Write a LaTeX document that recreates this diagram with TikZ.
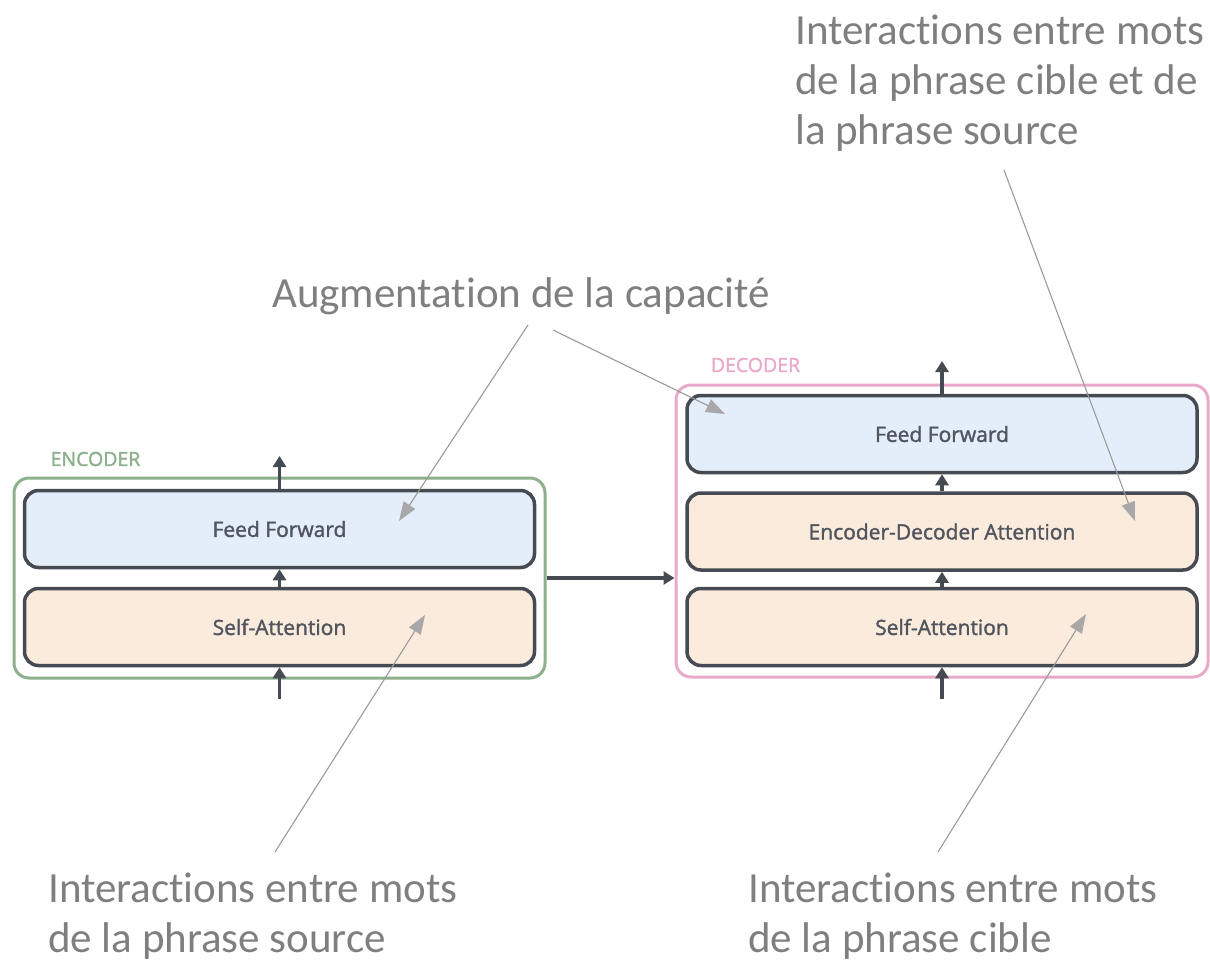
\documentclass[tikz,border=0pt]{standalone}
\usepackage{fontspec}
\setmainfont{Carlito}[Ligatures=NoCommon]
\newfontfamily\layerfont{Open Sans}[FakeBold=1.6]
\usetikzlibrary{arrows.meta}

\definecolor{layerline}{HTML}{464A52}
\definecolor{layertext}{HTML}{50555E}
\definecolor{ffblue}{HTML}{E4EEFA}
\definecolor{attpeach}{HTML}{FBEBDD}
\definecolor{encgreen}{HTML}{8CAF8C}
\definecolor{decpink}{HTML}{E9A9C9}
\definecolor{notegray}{HTML}{7F7F7F}
\definecolor{pointergray}{HTML}{9A9A9A}
\definecolor{pointerhead}{HTML}{A8A8A8}

\tikzset{
  layer/.style={draw=layerline, line width=3.5pt, rounded corners=14pt,
    minimum width=510pt, minimum height=77pt, inner sep=0pt,
    font=\layerfont\fontsize{21}{25}\selectfont, text=layertext},
  ffbox/.style={layer, fill=ffblue},
  attbox/.style={layer, fill=attpeach},
  stack/.style={line width=3pt, rounded corners=15pt, inner sep=0pt},
  stacktitle/.style={font=\layerfont\fontsize{19.5}{22}\selectfont, inner sep=0pt},
  flow/.style={draw=layerline, line width=3.5pt,
    -{Triangle[length=11pt, width=13pt]}},
  note/.style={font=\fontsize{43}{50}\selectfont, text=notegray,
    align=left, anchor=base west, inner sep=0pt},
  pointer/.style={draw=pointergray, line width=1.1pt,
    -{Triangle[length=19pt, width=14pt, fill=pointerhead, line width=0pt]}}
}

\begin{document}
\begin{tikzpicture}[x=1pt, y=-1pt]
\useasboundingbox (0,0) rectangle (1210,966);

% encoder and decoder frames
\node[stack, draw=encgreen, minimum width=531pt, minimum height=200pt] (enc) at (279.5,578) {};
\node[stack, draw=decpink, minimum width=532pt, minimum height=292pt] (dec) at (942,531) {};
\node[stacktitle, text=encgreen] (enctitle) at (95.5,459) {ENCODER};
\node[stacktitle, text=decpink] (dectitle) at (755.5,365) {DECODER};

% encoder layers
\node[ffbox] (encff) at (279.5,529) {Feed Forward};
\node[attbox] (encsa) at (279.5,627) {Self-Attention};

% decoder layers
\node[ffbox] (decff) at (942,434) {Feed Forward};
\node[attbox] (deced) at (942,531.5) {Encoder-Decoder Attention};
\node[attbox] (decsa) at (942,627) {Self-Attention};

% data flow
\coordinate (encin) at (279.5,699);
\coordinate (encout) at (279.5,456);
\coordinate (decin) at (942,699);
\coordinate (decout) at (942,361);
\draw[flow] (encin) -- (encsa.south);
\draw[flow] (encsa.north) -- (encff.south);
\draw[flow] (encff.north) -- (encout);
\draw[flow] (decin) -- (decsa.south);
\draw[flow] (decsa.north) -- (deced.south);
\draw[flow] (deced.north) -- (decff.south);
\draw[flow] (decff.north) -- (decout);
\draw[flow] (enc.east) -- (enc.east -| dec.west);

% annotations (base anchor sits on the last line)
\node[note] (capacity) at (272,307) {Augmentation de la capacité};
\node[note] (crossnote) at (795,144) {Interactions entre mots\\de la phrase cible et de\\la phrase source};
\node[note] (srcnote) at (48,952) {Interactions entre mots\\de la phrase source};
\node[note] (tgtnote) at (748,952) {Interactions entre mots\\de la phrase cible};

\coordinate (capA) at (528,325);
\coordinate (capB) at (553,330);
\coordinate (crossA) at (1004,170);
\coordinate (srcA) at (275,852);
\coordinate (tgtA) at (938,852);
\coordinate (encffpt) at (399,521);
\coordinate (decffpt) at (725,414);
\coordinate (decedpt) at (1135,521);
\coordinate (encsapt) at (425,615);
\coordinate (decsapt) at (1086,614);

\draw[pointer] (capA) -- (encffpt);
\draw[pointer] (capB) -- (decffpt);
\draw[pointer] (crossA) -- (decedpt);
\draw[pointer] (srcA) -- (encsapt);
\draw[pointer] (tgtA) -- (decsapt);
\end{tikzpicture}
\end{document}
